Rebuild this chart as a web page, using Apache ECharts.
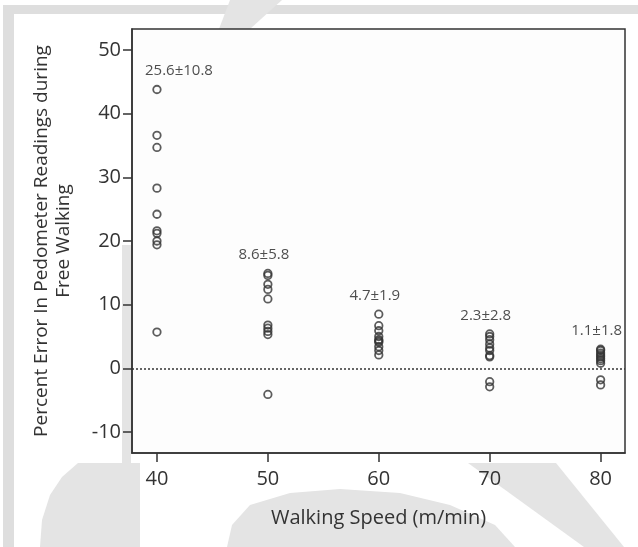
<!DOCTYPE html>
<html><head><meta charset="utf-8">
<script src="https://cdn.jsdelivr.net/npm/echarts@6/dist/echarts.min.js"></script>
<style>html,body{margin:0;padding:0;background:#fff}#c{width:638px;height:547px}</style>
</head><body><div id="c"></div>
<script>
// ---- data ----
const speeds = [40, 50, 60, 70, 80];
const err40 = [43.8, 36.6, 34.7, 28.3, 24.2, 21.6, 21.2, 20.0, 19.4, 5.7];
const err50 = [14.9, 14.6, 13.2, 12.4, 10.9, 6.8, 6.3, 5.8, 5.3, -4.1];
const err60 = [8.5, 6.7, 5.9, 5.0, 4.5, 4.3, 4.1, 3.4, 2.8, 2.1];
const err70 = [5.4, 5.0, 4.5, 3.8, 3.2, 2.8, 2.0, 1.8, -2.1, -2.9];
const err80 = [3.0, 2.8, 2.4, 2.1, 1.8, 1.5, 1.2, 0.8, -1.8, -2.6];
const groupLabels = ['25.6±10.8', '8.6±5.8', '4.7±1.9', '2.3±2.8', '1.1±1.8'];
const xTicks = [40, 50, 60, 70, 80];
const yTicks = [-10, 0, 10, 20, 30, 40, 50];

const groups = [err40, err50, err60, err70, err80];
const points = [];
groups.forEach((g, i) => g.forEach(v => points.push([speeds[i], v])));
const annot = groups.map((g, i) => ({
  value: [speeds[i], Math.max(...g)],
  label: { formatter: groupLabels[i], offset: i === 0 ? [22, 0] : [-4, 0] }
}));

const FONT = '"Open Sans", "Noto Sans", sans-serif';
const WM = '#e4e4e4';
const chart = echarts.init(document.getElementById('c'), null, { renderer: 'canvas' });
chart.setOption({
  animation: false,
  backgroundColor: '#ffffff',
  graphic: [
    // light grey frame and watermark shapes behind the chart
    { type: 'rect', z: -10, silent: true, shape: { x: 3, y: 5, width: 635, height: 9 }, style: { fill: '#dedede' } },
    { type: 'rect', z: -10, silent: true, shape: { x: 3, y: 5, width: 11, height: 542 }, style: { fill: '#dedede' } },
    { type: 'polygon', z: -10, silent: true, shape: { points: [[230, 0], [282, 0], [250, 29], [219, 29]] }, style: { fill: WM } },
    { type: 'polygon', z: -10, silent: true, shape: { points: [[122, 245], [131, 245], [131, 463], [122, 463]] }, style: { fill: WM } },
    { type: 'polygon', z: -10, silent: true, shape: { points: [[131, 463], [140, 463], [140, 547], [40, 547], [42, 520], [50, 495], [62, 477], [78, 463]] }, style: { fill: WM } },
    { type: 'polygon', z: -10, silent: true, shape: { points: [[468, 463], [556, 463], [624, 547], [584, 547]] }, style: { fill: WM } },
    { type: 'polygon', z: -10, silent: true, shape: { points: [[227, 547], [232, 525], [250, 505], [290, 493], [340, 489], [400, 493], [450, 505], [495, 525], [515, 547]] }, style: { fill: WM } }
  ],
  grid: {
    left: 132, right: 13, top: 29, bottom: 94,
    show: true, backgroundColor: '#fdfdfd', borderColor: '#333', borderWidth: 1.5
  },
  xAxis: {
    type: 'value', min: 37.75, max: 82.2,
    name: 'Walking Speed (m/min)', nameLocation: 'middle', nameGap: 55,
    nameTextStyle: { fontFamily: FONT, fontSize: 20, color: '#333' },
    axisLine: { onZero: false, lineStyle: { color: '#333', width: 1.5 } },
    axisTick: { show: true, length: 9, customValues: xTicks, lineStyle: { color: '#333', width: 1.5 } },
    axisLabel: { customValues: xTicks, margin: 16, fontFamily: FONT, fontSize: 20, color: '#333' },
    splitLine: { show: false }
  },
  yAxis: {
    type: 'value', min: -13.3, max: 53.3,
    name: 'Percent Error In Pedometer Readings during\nFree Walking',
    nameLocation: 'middle', nameGap: 57, nameRotate: 90,
    nameTextStyle: { fontFamily: FONT, fontSize: 19, color: '#333', lineHeight: 22, align: 'center' },
    axisLine: { show: true, onZero: false, lineStyle: { color: '#333', width: 1.5 } },
    axisTick: { show: true, length: 9, customValues: yTicks, lineStyle: { color: '#333', width: 1.5 } },
    axisLabel: { customValues: yTicks, margin: 11, fontFamily: FONT, fontSize: 20, color: '#333' },
    splitLine: { show: false }
  },
  series: [
    {
      type: 'scatter', data: points, symbol: 'circle', symbolSize: 7.5,
      itemStyle: { color: 'rgba(255,255,255,0)', borderColor: '#333', borderWidth: 1.8 },
      markLine: {
        silent: true, symbol: 'none', label: { show: false },
        lineStyle: { color: '#333', type: [2, 2], width: 1.5 },
        data: [{ yAxis: 0 }]
      }
    },
    {
      type: 'scatter', data: annot, symbolSize: 0, silent: true,
      label: { show: true, position: 'top', distance: 11, fontFamily: FONT, fontSize: 15, color: '#222' }
    }
  ]
});
</script></body></html>
